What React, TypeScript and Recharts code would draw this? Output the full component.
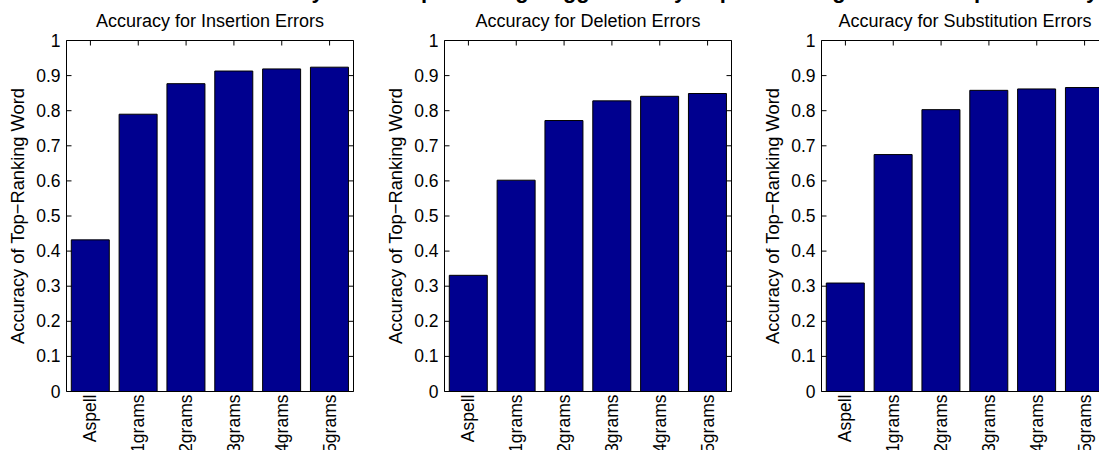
import { BarChart, Bar, XAxis, YAxis } from 'recharts';

// values
const categories = ['Aspell', '1grams', '2grams', '3grams', '4grams', '5grams'];
const insertionAccuracy = [0.432, 0.79, 0.877, 0.913, 0.919, 0.924];
const deletionAccuracy = [0.331, 0.602, 0.772, 0.828, 0.841, 0.849];
const substitutionAccuracy = [0.309, 0.675, 0.803, 0.858, 0.862, 0.866];
const yTicks = [0, 0.1, 0.2, 0.3, 0.4, 0.5, 0.6, 0.7, 0.8, 0.9, 1];
const panelTitles = ['Accuracy for Insertion Errors', 'Accuracy for Deletion Errors', 'Accuracy for Substitution Errors'];
const yLabel = 'Accuracy of Top\u2212Ranking Word';
const figureTitle = 'Accuracy of the Top-Ranking Suggestion by Aspell and N-gram Models per Error Type';

const FONT = '"Liberation Sans", Arial, Helvetica, sans-serif';
const BAR_COLOR = '#00008F';
const CHART_W = 380;
const CHART_H = 450;
const PLOT_LEFT = 66.5;
const PLOT_TOP = 40.5;
const PLOT_W = 287;
const PLOT_H = 351;
const X_AXIS_H = CHART_H - PLOT_TOP - PLOT_H;
const MARGIN = { top: PLOT_TOP - 1, left: 0, right: CHART_W - PLOT_LEFT - PLOT_W - 1, bottom: 0 };
const CHART_LEFTS = [0, 378, 755];
const TICK_LEN = 5;

const YTick = ({ x, y, payload }: any) => {
  const axisX = x + 6;
  return (
    <g>
      <line x1={axisX} x2={axisX + TICK_LEN} y1={y} y2={y} stroke="#000" />
      <line x1={axisX + PLOT_W - TICK_LEN} x2={axisX + PLOT_W} y1={y} y2={y} stroke="#000" />
      <text x={x} y={y} dy={6} textAnchor="end" fontSize={17.5} fontFamily={FONT} fill="#000">
        {payload.value}
      </text>
    </g>
  );
};

const XTick = ({ x, y, payload }: any) => (
  <g>
    <line x1={x} x2={x} y1={y - PLOT_H} y2={y - PLOT_H + TICK_LEN} stroke="#000" />
    <text
      transform={`translate(${x + 6},${y + 3}) rotate(-90)`}
      textAnchor="end"
      fontSize={17.5}
      fontFamily={FONT}
      fill="#000"
    >
      {payload.value}
    </text>
  </g>
);

function Panel({ values }: { values: number[] }) {
  const data = categories.map((name, i) => ({ name, value: values[i] }));
  return (
    <BarChart width={CHART_W} height={CHART_H} data={data} margin={MARGIN} barCategoryGap="10%">
      <XAxis
        dataKey="name"
        height={X_AXIS_H}
        tickSize={0}
        tickMargin={0}
        tick={<XTick />}
        interval={0}
        axisLine={{ stroke: '#000' }}
      />
      <XAxis xAxisId="top" dataKey="name" orientation="top" height={1} tick={false} tickLine={false} axisLine={{ stroke: '#000' }} />
      <YAxis
        domain={[0, 1]}
        ticks={yTicks}
        width={PLOT_LEFT}
        tickSize={0}
        tickMargin={6}
        tick={<YTick />}
        interval={0}
        axisLine={{ stroke: '#000' }}
      />
      <YAxis yAxisId="right" orientation="right" domain={[0, 1]} width={1} tick={false} tickLine={false} axisLine={{ stroke: '#000' }} />
      <Bar dataKey="value" fill={BAR_COLOR} stroke="#000" strokeWidth={1} isAnimationActive={false} />
    </BarChart>
  );
}

export default function App() {
  const series = [insertionAccuracy, deletionAccuracy, substitutionAccuracy];
  return (
    <div style={{ position: 'absolute', left: 0, top: 0, width: 1099, height: 450, overflow: 'hidden', background: '#fff' }}>
      {series.map((values, i) => (
        <div key={i} style={{ position: 'absolute', left: CHART_LEFTS[i], top: 0 }}>
          <Panel values={values} />
        </div>
      ))}
      <svg width={1099} height={450} style={{ position: 'absolute', left: 0, top: 0, pointerEvents: 'none' }}>
        <text x={1124} y={-2.5} textAnchor="end" fontSize={22} fontWeight="bold" fontFamily={FONT} fill="#000">
          {figureTitle}
        </text>
        {panelTitles.map((t, i) => {
          const plotLeft = CHART_LEFTS[i] + PLOT_LEFT;
          return (
            <g key={t}>
              <text x={plotLeft + PLOT_W / 2} y={27} textAnchor="middle" fontSize={18} fontFamily={FONT} fill="#000">
                {t}
              </text>
              <text
                transform={`translate(${plotLeft - 42.5},${PLOT_TOP + PLOT_H / 2}) rotate(-90)`}
                textAnchor="middle"
                fontSize={18.3}
                fontFamily={FONT}
                fill="#000"
              >
                {yLabel}
              </text>
            </g>
          );
        })}
      </svg>
    </div>
  );
}
